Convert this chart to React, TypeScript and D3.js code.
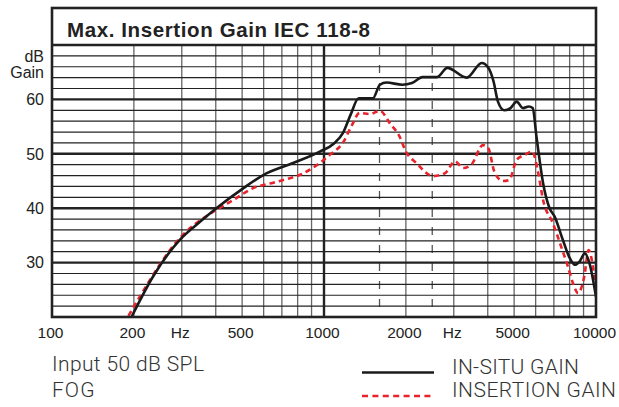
import React from 'react';
import * as d3 from 'd3';

// frequency (Hz) / gain (dB)
const inSituGain: [number, number][] = [
  [196, 20], [235, 27.4], [295, 34.2], [350, 37.5], [402, 40], [506, 43.7],
  [598, 46.1], [770, 48.3], [965, 50.4], [1088, 51.9], [1173, 53.8], [1253, 57.2],
  [1341, 60.2], [1513, 60.2], [1605, 62.7], [1697, 63.1], [1940, 62.7], [2105, 63],
  [2303, 64.1], [2604, 64.1], [2840, 65.8], [3350, 64], [3800, 66.7], [4020, 65.8],
  [4200, 63.3], [4360, 59.6], [4600, 58], [4850, 58.4], [5110, 59.6], [5390, 58.4],
  [5660, 58.7], [5850, 58.4], [6050, 52.9], [6390, 44.6], [6750, 40], [7040, 38.5],
  [7550, 34.2], [7960, 31.1], [8370, 29.6], [8700, 30.2], [9100, 31.7], [9460, 29.9],
  [10000, 23.7],
];

const insertionGain: [number, number][] = [
  [191, 20.2], [210, 23.7], [295, 34.5], [402, 39.7], [464, 41.5], [549, 43.7],
  [651, 44.7], [837, 46.4], [965, 48.3], [1050, 49.8], [1179, 52.2], [1268, 55.3],
  [1352, 57.5], [1477, 57.3], [1605, 57.9], [1747, 55.6], [1895, 53.2], [2000, 50.4],
  [2185, 48.3], [2523, 45.9], [2780, 46.4], [3030, 48.6], [3250, 47.4], [3480, 48],
  [3840, 51.6], [4020, 51], [4230, 46.7], [4540, 45], [4800, 45.2], [5110, 48.9],
  [5470, 49.8], [5830, 50.4], [6130, 46.5], [6390, 41.5], [6950, 37.2], [7450, 32.9],
  [7880, 29.3], [8230, 26.2], [8600, 24.4], [9050, 27.4], [9400, 32.3], [9650, 30.5],
  [10000, 24.5],
];

const freqLabels = [100, 200, 500, 1000, 2000, 5000, 10000];
const hzLabelFreqs = [296, 2960];
const gainLabels = [30, 40, 50, 60];
const dashedFreqs = [1600, 2500];
const title = 'Max. Insertion Gain IEC 118-8';
const notes = ['Input 50 dB SPL', 'FOG'];
const legendNames = ['IN-SITU GAIN', 'INSERTION GAIN'];

const RED = '#e8232b';
const INK = '#222';

const App: React.FC = () => {
  const x = d3.scaleLog().domain([100, 10000]).range([52, 596]);
  const y = d3.scaleLinear().domain([20, 70]).range([317, 45]);

  const minorFreqs = [
    ...d3.range(2, 10).map(k => k * 100),
    ...d3.range(2, 10).map(k => k * 1000),
  ];
  const gainLines = d3.range(22, 70, 2);

  const line = d3.line<[number, number]>()
    .x(d => x(d[0]))
    .y(d => y(d[1]))
    .curve(d3.curveMonotoneX);

  const [x0, x1] = x.range();
  const [yBottom, yTop] = y.range();
  const font = '"Liberation Sans", Arial, sans-serif';
  const lightFont = 'Roboto, "Open Sans", sans-serif';

  return (
    <svg width={619} height={407} style={{ position: 'absolute', left: 0, top: 0 }}>
      <rect width={619} height={407} fill="#fff" />
      <defs>
        <clipPath id="plot">
          <rect x={x0} y={yTop} width={x1 - x0} height={yBottom - yTop} />
        </clipPath>
      </defs>

      {/* vertical grid */}
      {minorFreqs.map(f => (
        <line key={f} x1={x(f)} x2={x(f)} y1={yTop} y2={yBottom} stroke="#666" strokeWidth={1.3} />
      ))}
      {dashedFreqs.map(f => (
        <line key={f} x1={x(f)} x2={x(f)} y1={yTop} y2={yBottom} stroke="#555" strokeWidth={1.3}
          strokeDasharray="8 10" strokeDashoffset={-2} />
      ))}

      {/* horizontal grid */}
      {gainLines.map(g => (
        <line key={g} x1={x0} x2={x1} y1={y(g)} y2={y(g)}
          stroke={INK} strokeWidth={g % 10 === 0 ? 2.4 : 1.2} />
      ))}
      <line x1={x(1000)} x2={x(1000)} y1={yTop} y2={yBottom} stroke={INK} strokeWidth={2.4} />

      {/* curves */}
      <g clipPath="url(#plot)">
        <path d={line(insertionGain) ?? ''} fill="none" stroke={RED} strokeWidth={2.6}
          strokeDasharray="5.5 4" />
        <path d={line(inSituGain) ?? ''} fill="none" stroke="#1a1a1a" strokeWidth={2.6} />
      </g>

      {/* frame + title bar */}
      <rect x={x0} y={8} width={x1 - x0} height={yBottom - 8} fill="none" stroke={INK} strokeWidth={2.6} />
      <line x1={x0} x2={x1} y1={yTop} y2={yTop} stroke={INK} strokeWidth={2.4} />
      <text x={67} y={36.5} fontFamily={font} fontWeight="bold" fontSize={20.5} fill={INK}
        textLength={303} lengthAdjust="spacing">{title}</text>

      {/* y labels */}
      <g fontFamily={font} fontSize={16} fill={INK} textAnchor="end">
        <text x={44} y={61.5}>dB</text>
        <text x={44} y={78}>Gain</text>
        {gainLabels.map(g => (
          <text key={g} x={44} y={y(g) + 5.8}>{g}</text>
        ))}
      </g>

      {/* x labels */}
      <g fontFamily={font} fontSize={15.5} fill={INK} textAnchor="middle">
        {freqLabels.map(f => (
          <text key={f} x={x(f) - 1.5} y={338}>{f}</text>
        ))}
        {hzLabelFreqs.map(f => (
          <text key={f} x={x(f)} y={338}>Hz</text>
        ))}
      </g>

      {/* notes */}
      <g fontFamily={lightFont} fontWeight={300} fontSize={21} fill="#333" lengthAdjust="spacing">
        <text x={52} y={370.5} textLength={152} lengthAdjust="spacing">{notes[0]}</text>
        <text x={52} y={396.5} textLength={42.5} lengthAdjust="spacing">{notes[1]}</text>
      </g>

      {/* legend */}
      <line x1={362} x2={434} y1={372.5} y2={372.5} stroke="#1a1a1a" strokeWidth={2.4} />
      <line x1={362} x2={434} y1={396} y2={396} stroke={RED} strokeWidth={2.6} strokeDasharray="6 4.4" />
      <g fontFamily={lightFont} fontWeight={300} fontSize={21} fill="#333">
        <text x={452} y={374} textLength={127} lengthAdjust="spacing">{legendNames[0]}</text>
        <text x={452} y={396.7} textLength={164} lengthAdjust="spacing">{legendNames[1]}</text>
      </g>
    </svg>
  );
};

export default App;
